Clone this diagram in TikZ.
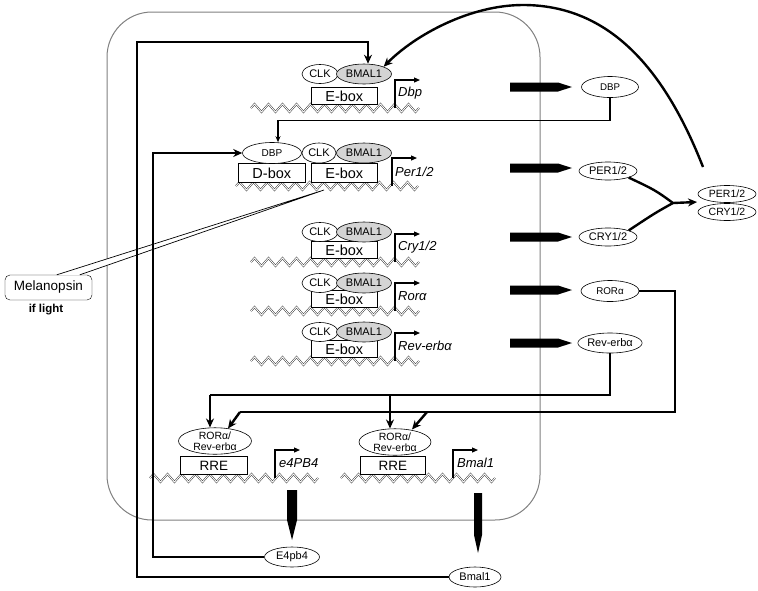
\documentclass[tikz,border=0pt]{standalone}
\usepackage{fontspec}
\setmainfont{Liberation Sans}
\usetikzlibrary{decorations.pathmorphing,arrows.meta,shapes.geometric,calc}
\newcommand\fsz[1]{\fontsize{#1}{#1}\selectfont}
\begin{document}
\begin{tikzpicture}[x=1pt,y=-1pt,
  ell/.style={ellipse, draw, line width=0.6pt, inner sep=0pt, fill=white},
  bmal/.style={ell, fill=black!17},
  boxn/.style={draw, line width=0.6pt, inner sep=0pt, fill=white},
  helix/.style={draw=black!85, line width=0.45pt, double=white, double distance=0.9pt,
    decorate, decoration={zigzag, segment length=14pt, amplitude=4pt}},
  prom/.style={line width=1.2pt, -{Triangle[length=6pt,width=5pt]}},
  conn/.style={line width=2.4pt, -{Stealth[length=9pt,width=8pt]}},
  thinconn/.style={line width=1.3pt, -{Stealth[length=6pt,width=5pt]}},
  thk/.style={line width=2.4pt},
  gene/.style={font=\fsz{13}\itshape, anchor=west, inner sep=0pt}
]
\useasboundingbox (0,0) rectangle (758,590);

% cell boundary
\draw[black!50, line width=1pt, rounded corners=45pt] (107,12) rectangle (540,520);

% Melanopsin
\node[draw, rounded corners=5pt, minimum width=87pt, minimum height=25pt, inner sep=0pt, font=\fsz{13.5}] (mel) at (48.5,287.5) {Melanopsin};
\node[font=\fsz{11.5}\bfseries, inner sep=0pt] (light) at (46,310) {if light};
\coordinate (meltip) at (324,190);
\draw[line width=0.7pt, fill=white] ($(mel.north west)+(52,0)$) -- (meltip) -- ($(mel.north west)+(75,0)$);

% E-box gene rows
\foreach \n/\ey/\hy/\g in {1/74/108/Dbp, 3/232/262/{Cry1/2}, 4/283/311/{Rorα}, 5/332/361/{Rev-erbα}} {
  \draw[helix] (251,\hy) -- (419,\hy);
  \node[boxn, minimum width=66pt, minimum height=17pt, font=\fsz{14.5}, anchor=south west] (eb\n) at (311,\hy-3) {E-box};
  \node[ell, minimum width=36pt, minimum height=19pt, font=\fsz{11}] (clk\n) at (320,\ey) {CLK};
  \node[bmal, minimum width=55pt, minimum height=20pt, font=\fsz{11}] (bm\n) at (364,\ey) {BMAL1};
  \draw[prom] (395,\hy) -- (395,\hy-28) -- (420,\hy-28);
  \node[gene] (g\n) at (398,\hy-15) {\g};
}

% Per1/2 row
\draw[helix] (236,186) -- (418,186);
\node[boxn, minimum width=67pt, minimum height=19pt, font=\fsz{14.5}, anchor=south west] (db2) at (238,183) {D-box};
\node[boxn, minimum width=66pt, minimum height=19pt, font=\fsz{14.5}, anchor=south west] (eb2) at (311,183) {E-box};
\node[ell, minimum width=59pt, minimum height=21pt, font=\fsz{10}] (dbp2) at (272,153) {DBP};
\node[ell, minimum width=34pt, minimum height=20pt, font=\fsz{11}] (clk2) at (319,153) {CLK};
\node[bmal, minimum width=55pt, minimum height=20pt, font=\fsz{11}] (bm2) at (364,153) {BMAL1};
\draw[prom] (392,186) -- (392,158) -- (417,158);
\node[gene] (g2) at (395,172) {Per1/2};

% fat arrows (translation)
\foreach \y in {87,168,237,290,343}
  \fill (510,\y-4.5) -- (558,\y-4.5) -- (572,\y) -- (558,\y+4.5) -- (510,\y+4.5) -- cycle;

% proteins on the right
\node[ell, minimum width=57pt, minimum height=21pt, font=\fsz{9.7}] (rdbp) at (610,87) {DBP};
\node[ell, minimum width=58pt, minimum height=18pt, font=\fsz{11}] (rper) at (608,171) {PER1/2};
\node[ell, minimum width=58pt, minimum height=18pt, font=\fsz{11}] (rcry) at (608,237) {CRY1/2};
\node[ell, minimum width=58pt, minimum height=21pt, font=\fsz{9.8}] (rror) at (610,291) {RORα};
\node[ell, minimum width=57pt, minimum height=20pt, font=\fsz{11}] (rrev) at (610,343) {Rev-erbα};

% complex
\node[ell, minimum width=58pt, minimum height=17pt, font=\fsz{10.5}] (cper) at (727,194) {PER1/2};
\node[ell, minimum width=58pt, minimum height=17pt, font=\fsz{10.5}] (ccry) at (727,212) {CRY1/2};

\coordinate (jn) at (673,203);
\coordinate (cin) at (697,202);
\draw[thk] (rper.south east) .. controls (655,190) .. (jn);
\draw[thk] (rcry.north east) .. controls (655,213) .. (jn);
\draw[conn] (jn) -- (cin);

% repression by PER/CRY
\coordinate (ctop) at (703,167);
\draw[conn] (ctop) .. controls (665,70) and (610,5) .. (523,5) .. controls (470,5) and (415,35) .. (bm1.north east);

% DBP feedback
\coordinate (dbpin) at ($(dbp2.north)+(6,0)$);
\draw[thinconn] (rdbp.south) |- ($(dbpin)+(0,-22)$) -- (dbpin);

% RRE genes
\draw[helix] (150,478) -- (318,478);
\node[boxn, minimum width=67pt, minimum height=18pt, font=\fsz{13.5}, anchor=south west] (rre1) at (180,475) {RRE};
\node[ell, minimum width=73pt, minimum height=23pt, align=center, font=\fontsize{10.5}{11}\selectfont] (e1) at (215,441) {RORα/\\Rev-erbα};
\draw[prom] (275,478) -- (275,450) -- (300,450);
\node[gene] (g6) at (279,463) {e4PB4};

\draw[helix] (341,478) -- (495,478);
\node[boxn, minimum width=65pt, minimum height=18pt, font=\fsz{13.5}, anchor=south west] (rre2) at (360,475) {RRE};
\node[ell, minimum width=72pt, minimum height=23pt, align=center, font=\fontsize{10.5}{11}\selectfont] (e2) at (395,442) {RORα/\\Rev-erbα};
\draw[prom] (453,478) -- (453,450) -- (478,450);
\node[gene] (g7) at (457,463) {Bmal1};

% output proteins
\fill (287,490) -- (297,490) -- (297,520) -- (292,540) -- (287,520) -- cycle;
\fill (474,493) -- (482,493) -- (482,535) -- (478,553) -- (474,535) -- cycle;
\node[ell, minimum width=55pt, minimum height=20pt, font=\fsz{11}] (e4out) at (292,557) {E4pb4};
\node[ell, minimum width=52pt, minimum height=20pt, font=\fsz{11}] (bmout) at (475,577) {Bmal1};

% RORa / Rev-erba regulation
\coordinate (j1) at (210,395);
\coordinate (j2) at (390,395);
\draw[thk] (rrev.south) |- (j1);
\draw[conn] (j1) -- (j1 |- e1.north);
\draw[conn] (j2) -- (j2 |- e2.north);
\coordinate (k1) at (240,412);
\coordinate (k2) at (427,412);
\draw[thk] (rror.east) -| (675,412) -- (k1);
\draw[conn] (k1) -- ($(e1.north)+(13,1)$);
\draw[conn] (k2) -- ($(e2.north)+(17,1)$);

% feedback from E4pb4 and Bmal1
\draw[conn] (e4out.west) -| (153,153) -- (dbp2.west);
\draw[conn] (bmout.west) -| (137,42) -| ($(bm1.north)+(4,0)$);
\end{tikzpicture}
\end{document}
